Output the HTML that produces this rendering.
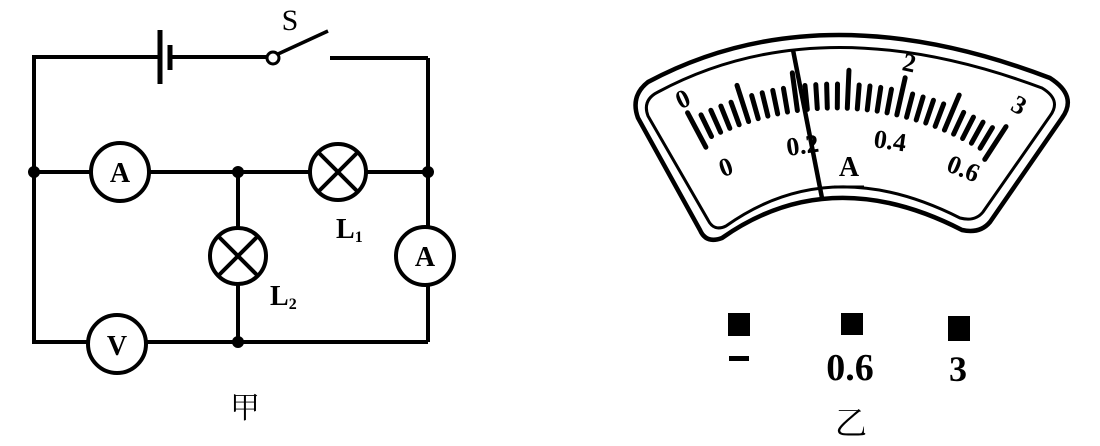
<!DOCTYPE html>
<html><head><meta charset="utf-8"><style>
html,body{margin:0;padding:0;background:#fff;width:1100px;height:446px;overflow:hidden}
svg{display:block}
text{font-family:"Liberation Serif","Noto Serif CJK SC",serif;fill:#000}
</style></head><body>
<svg id="s" width="1100" height="446" viewBox="0 0 1100 446">
<g stroke="#000" stroke-width="4" fill="none">
<polyline points="161,57 34,57 34,342 88,342"/>
<line x1="170" y1="57" x2="268" y2="57"/>
<line x1="330" y1="58" x2="428" y2="58"/>
<line x1="428" y1="58" x2="428" y2="226"/>
<line x1="428" y1="286" x2="428" y2="342"/>
<line x1="34" y1="172" x2="90" y2="172"/>
<line x1="150" y1="172" x2="309" y2="172"/>
<line x1="367" y1="172" x2="428" y2="172"/>
<line x1="238" y1="172" x2="238" y2="227"/>
<line x1="238" y1="285" x2="238" y2="342"/>
<line x1="147" y1="342" x2="428" y2="342"/>
<line x1="160" y1="30" x2="160" y2="84" stroke-width="5"/>
<line x1="170" y1="45" x2="170" y2="70" stroke-width="5"/>
<line x1="278" y1="54" x2="328" y2="31" stroke-width="3.5"/>
<circle cx="273" cy="58" r="6" stroke-width="3"/>
<circle cx="120" cy="172" r="29" fill="#fff"/>
<circle cx="425" cy="256" r="29" fill="#fff"/>
<circle cx="117" cy="344" r="29" fill="#fff"/>
<circle cx="338" cy="172" r="28" fill="#fff"/>
<line x1="318" y1="152" x2="358" y2="192"/><line x1="358" y1="152" x2="318" y2="192"/>
<circle cx="238" cy="256" r="28" fill="#fff"/>
<line x1="218" y1="236" x2="258" y2="276"/><line x1="258" y1="236" x2="218" y2="276"/>
</g>
<g fill="#000">
<circle cx="34" cy="172" r="6"/><circle cx="238" cy="172" r="6"/><circle cx="428" cy="172" r="6"/><circle cx="238" cy="342" r="6"/>
</g>
<g font-weight="bold" font-size="28" text-anchor="middle">
<text x="120" y="182">A</text><text x="425" y="266">A</text><text x="117" y="355">V</text>
</g>
<text x="290" y="30" font-size="30" text-anchor="middle">S</text>
<text x="336" y="238" font-size="28" font-weight="bold">L<tspan font-size="16" dy="4">1</tspan></text>
<text x="270" y="305" font-size="28" font-weight="bold">L<tspan font-size="16" dy="4">2</tspan></text>
<text x="245" y="418" font-size="30" text-anchor="middle">甲</text>

<g stroke="#000" fill="none">
<path d="M648,82 Q820,-10 1050,78 Q1078,96 1062,118 L990,222 Q980,234 962,230 Q830,162 722,238 Q706,244 700,230 L638,118 Q630,96 648,82 Z" stroke-width="4.5"/>
<path d="M658,92 Q820,5 1042,88 Q1062,100 1050,116 L983,212 Q975,222 960,218 Q830,152 726,226 Q714,232 708,220 L648,116 Q642,100 658,92 Z" stroke-width="3"/>
</g>
<g id="ticks" stroke="#000" stroke-width="5" stroke-linecap="round"></g>
<line x1="793" y1="50" x2="822" y2="198" stroke="#000" stroke-width="4.5"/>
<g font-size="26" font-weight="bold" font-family="Liberation Sans">
<text x="676" y="107" transform="rotate(-25 684 98)">0</text>
<text x="903" y="72" transform="rotate(12 912 62)">2</text>
<text x="1013" y="115" transform="rotate(28 1022 105)">3</text>
<text x="718" y="175" transform="rotate(-20 727 163)">0</text>
<text x="786" y="153" transform="rotate(-8 808 143)">0.2</text>
<text x="874" y="150" transform="rotate(8 895 140)">0.4</text>
<text x="947" y="179" transform="rotate(22 968 170)">0.6</text>
</g>
<text x="849" y="176" font-size="28" font-weight="bold" text-anchor="middle">A</text>
<line x1="834" y1="187" x2="864" y2="187" stroke="#000" stroke-width="3"/>
<rect x="728" y="313" width="22" height="23"/>
<rect x="841" y="313" width="22" height="22"/>
<rect x="948" y="316" width="22" height="25"/>
<rect x="729" y="356" width="20" height="5"/>
<text x="850" y="380" font-size="38" font-weight="bold" text-anchor="middle">0.6</text>
<text x="958" y="381" font-size="36" font-weight="bold" text-anchor="middle">3</text>
<text x="851" y="434" font-size="32" text-anchor="middle">乙</text>
</svg>
<script>
var g=document.getElementById('ticks'),cx=835,cy=390,ns='http://www.w3.org/2000/svg';
for(var i=0;i<=30;i++){var a=(-28+i*61/30)*Math.PI/180,ri=282,ro=(i%5==0)?320:306;
if(i==0||i==30){ri=275;ro=314;}
var l=document.createElementNS(ns,'line');
l.setAttribute('x1',cx+ri*Math.sin(a));l.setAttribute('y1',cy-ri*Math.cos(a));
l.setAttribute('x2',cx+ro*Math.sin(a));l.setAttribute('y2',cy-ro*Math.cos(a));g.appendChild(l);}
</script>
</body></html>
